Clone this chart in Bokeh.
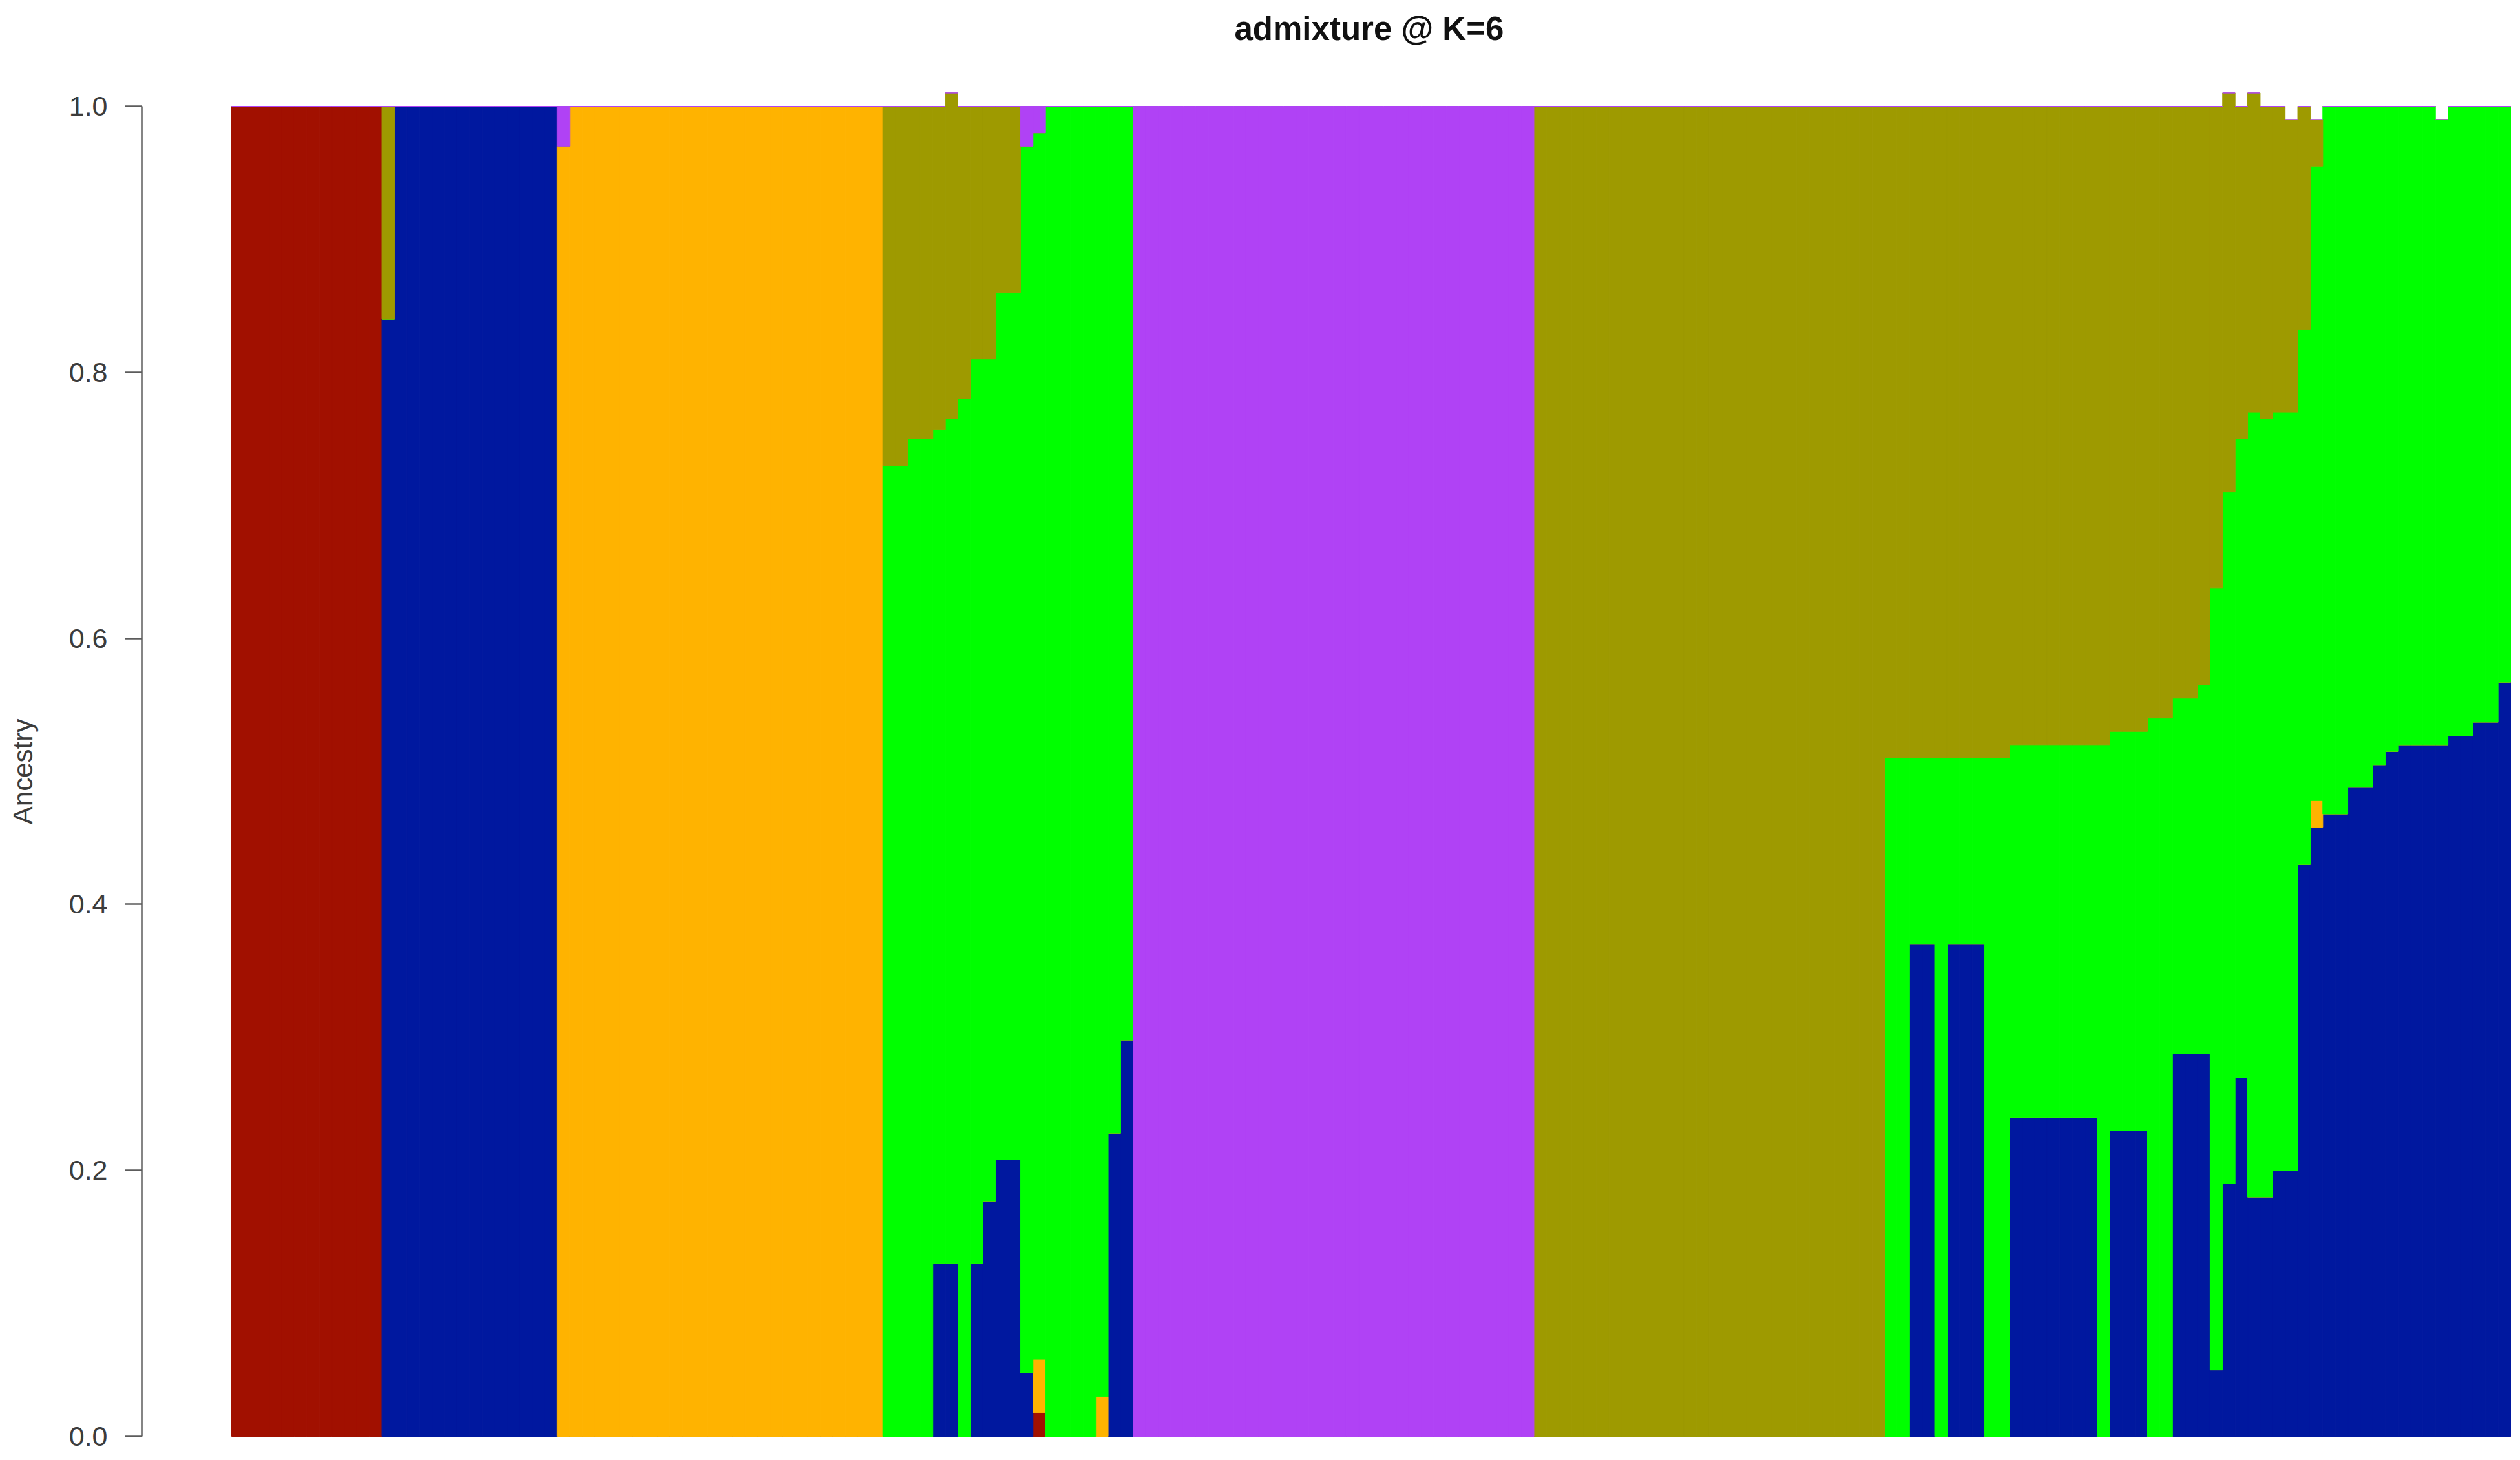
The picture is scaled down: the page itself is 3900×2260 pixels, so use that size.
from bokeh.plotting import figure
from bokeh.models import Range1d, FixedTicker, PrintfTickFormatter, Title, ColumnDataSource
from bokeh.embed import file_html
from bokeh.resources import INLINE

# ---------------- text ----------------
title_text = "admixture @ K=6"
y_label = "Ancestry"
y_ticks = [0.0, 0.2, 0.4, 0.6, 0.8, 1.0]

# ---------------- ancestry components (stack order bottom -> top) ----------------
components = ["k1_red", "k2_blue", "k3_orange", "k4_green", "k5_olive", "k6_purple"]
colors = ["#A11000", "#00189F", "#FFB300", "#00FF00", "#9E9A00", "#B042F5"]

# mixed group A : individuals 53..72 (20 bars)
mid_red    = [0, 0, 0, 0, 0, 0, 0, 0, 0, 0, 0, 0, 0.018, 0, 0, 0, 0, 0, 0, 0]
mid_blue   = [0, 0, 0, 0, 0.13, 0.13, 0, 0.13, 0.177, 0.208, 0.208, 0.048, 0, 0, 0, 0, 0, 0, 0.228, 0.298]
mid_orange = [0, 0, 0, 0, 0, 0, 0, 0, 0, 0, 0, 0, 0.04, 0, 0, 0, 0, 0.03, 0, 0]
mid_green  = [0.73, 0.73, 0.75, 0.75, 0.627, 0.635, 0.78, 0.68, 0.633, 0.652, 0.652, 0.922, 0.922,
              1.0, 1.0, 1.0, 1.0, 0.97, 0.772, 0.702]
mid_olive  = [0.27, 0.27, 0.25, 0.25, 0.243, 0.245, 0.22, 0.19, 0.19, 0.14, 0.14, 0, 0, 0, 0, 0, 0, 0, 0, 0]
mid_purple = [0, 0, 0, 0, 0, 0, 0, 0, 0, 0, 0, 0.03, 0.02, 0, 0, 0, 0, 0, 0, 0]

# mixed group B : individuals 133..182 (50 bars)
right_blue = [0, 0, 0.37, 0.37, 0, 0.37, 0.37, 0.37, 0, 0,
              0.24, 0.24, 0.24, 0.24, 0.24, 0.24, 0.24, 0,
              0.23, 0.23, 0.23, 0, 0,
              0.288, 0.288, 0.288, 0.05, 0.19, 0.27, 0.18, 0.18, 0.2, 0.2,
              0.43, 0.458, 0.468, 0.468, 0.488, 0.488, 0.505, 0.515, 0.52, 0.52, 0.52, 0.52,
              0.527, 0.527, 0.537, 0.537, 0.567]
right_orange = [0] * 34 + [0.02] + [0] * 15
right_green = [0.51, 0.51, 0.14, 0.14, 0.51, 0.14, 0.14, 0.14, 0.51, 0.51,
               0.28, 0.28, 0.28, 0.28, 0.28, 0.28, 0.28, 0.52,
               0.30, 0.30, 0.30, 0.54, 0.54,
               0.267, 0.267, 0.277, 0.588, 0.52, 0.48, 0.59, 0.585, 0.57, 0.57,
               0.402, 0.477, 0.532, 0.532, 0.512, 0.512, 0.495, 0.485, 0.48, 0.48, 0.48, 0.47,
               0.473, 0.473, 0.463, 0.463, 0.433]
right_olive = [0.49] * 10 + [0.48] * 8 + [0.47] * 3 + [0.46] * 2 + \
              [0.445, 0.445, 0.435, 0.362, 0.30, 0.25, 0.24, 0.235, 0.23, 0.22,
               0.168, 0.035] + [0] * 15

red    = [1.0] * 12 + [0.0] * 40 + mid_red + [0.0] * 110
blue   = [0.0] * 12 + [0.84] + [1.0] * 13 + [0.0] * 26 + mid_blue + [0.0] * 60 + right_blue
orange = [0.0] * 26 + [0.97] + [1.0] * 25 + mid_orange + [0.0] * 60 + right_orange
green  = [0.0] * 52 + mid_green + [0.0] * 60 + right_green
olive  = [0.0] * 12 + [0.16] + [0.0] * 39 + mid_olive + [0.0] * 32 + [1.0] * 28 + right_olive
purple = [0.0] * 26 + [0.03] + [0.0] * 25 + mid_purple + [1.0] * 32 + [0.0] * 78

n = len(red)
for arr in (blue, orange, green, olive, purple):
    assert len(arr) == n, len(arr)

source = ColumnDataSource(data=dict(
    x=[i + 0.5 for i in range(n)],
    k1_red=red, k2_blue=blue, k3_orange=orange,
    k4_green=green, k5_olive=olive, k6_purple=purple,
))

# ---------------- layout (figure pixel coordinates) ----------------
W, H = 3890, 2252
left_border = 219          # y axis line position
top_border = 140           # frame top
bottom_border = 4          # frame bottom at 2248 -> axis label centred on 0..1
bar_left, bar_right = 358, 3885
px_per_bar = (bar_right - bar_left) / n
x0 = (left_border - bar_left) / px_per_bar
x1 = x0 + (W - left_border) / px_per_bar
y_zero_px, y_one_px = 2223, 164
px_per_unit = float(y_zero_px - y_one_px)
y1 = (y_zero_px - top_border) / px_per_unit
y0 = y1 - (H - top_border - bottom_border) / px_per_unit

p = figure(width=W, height=H, output_backend="svg", toolbar_location=None,
           x_range=Range1d(x0, x1), y_range=Range1d(y0, y1),
           x_axis_location=None,
           min_border_left=left_border, min_border_right=0,
           min_border_top=top_border, min_border_bottom=bottom_border,
           outline_line_color=None, background_fill_color="white")
p.grid.visible = False

p.vbar_stack(components, x="x", width=1.0, source=source,
             color=colors, line_width=1)

ax = p.yaxis[0]
ax.ticker = FixedTicker(ticks=y_ticks)
ax.formatter = PrintfTickFormatter(format="%.1f")
ax.bounds = (0, 1)
ax.axis_line_color = "#5c5c5c"
ax.axis_line_width = 2.5
ax.major_tick_line_color = "#5c5c5c"
ax.major_tick_line_width = 2.5
ax.major_tick_out = 26
ax.major_tick_in = 0
ax.minor_tick_out = 0
ax.minor_tick_in = 0
ax.major_label_text_font = "Liberation Sans"
ax.major_label_text_font_size = "43px"
ax.major_label_text_color = "#3c3c3c"
ax.major_label_standoff = 27
ax.axis_label = y_label
ax.axis_label_text_font = "Liberation Sans"
ax.axis_label_text_font_size = "42px"
ax.axis_label_text_font_style = "normal"
ax.axis_label_text_color = "#3c3c3c"
ax.axis_label_standoff = 45

# spacer between frame and title (nearest to the frame)
p.add_layout(Title(text=" ", text_font_size="2px", standoff=54), "above")

# main title (outermost)
p.title = Title(text=title_text, align="left", offset=1691,
                vertical_align="bottom", standoff=20,
                text_font="Liberation Sans", text_font_size="51px",
                text_font_style="bold", text_color="#111111")

open("out.html", "w").write(file_html(p, INLINE))
